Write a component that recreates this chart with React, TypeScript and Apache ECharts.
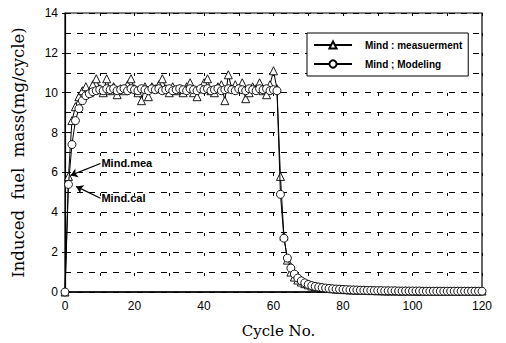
import React, { useEffect, useRef } from "react";
import * as echarts from "echarts";

const measName = "Mind : measuerment";
const modelName = "Mind ; Modeling";

const measurement = [
  0, 5.8, 8.6, 9.3, 9.8, 10.1, 10.3, 10.0, 10.4, 10.7,
  10.2, 10.0, 10.7, 10.1, 10.3, 9.9, 10.2, 10.1, 10.4, 10.7,
  10.2, 10.0, 9.6, 10.3, 9.8, 10.3, 10.2, 10.4, 10.7, 10.2,
  10.0, 10.3, 10.1, 10.2, 10.0, 10.3, 10.5, 10.0, 9.8, 10.2,
  10.5, 10.7, 10.1, 10.0, 10.3, 10.4, 9.6, 10.9, 10.2, 10.4,
  10.2, 10.5, 9.7, 10.0, 10.3, 10.2, 10.5, 10.1, 9.9, 10.4,
  11.1, 10.2, 5.8, 2.8, 1.6, 1.0, 0.75, 0.6, 0.5, 0.42,
  0.36, 0.3, 0.27, 0.24, 0.22, 0.2, 0.18, 0.16, 0.15, 0.14,
  0.12, 0.12, 0.1, 0.11, 0.09, 0.1, 0.08, 0.09, 0.07, 0.08,
  0.06, 0.07, 0.05, 0.06, 0.05, 0.06, 0.05, 0.04, 0.06, 0.05,
  0.05, 0.04, 0.05, 0.04, 0.05, 0.04, 0.05, 0.04, 0.04, 0.05,
  0.04, 0.05, 0.04, 0.04, 0.05, 0.04, 0.04, 0.05, 0.04, 0.04, 0.05,
];

const modeling = [
  0, 5.4, 7.4, 8.6, 9.2, 9.6, 9.85, 9.95, 10.05, 10.1,
  10.15, 10.1, 10.2, 10.15, 10.2, 10.1, 10.15, 10.2, 10.1, 10.2,
  10.15, 10.1, 10.2, 10.15, 10.1, 10.2, 10.15, 10.2, 10.1, 10.15,
  10.2, 10.1, 10.15, 10.2, 10.15, 10.1, 10.2, 10.15, 10.1, 10.2,
  10.15, 10.2, 10.1, 10.15, 10.2, 10.1, 10.15, 10.2, 10.15, 10.1,
  10.2, 10.15, 10.1, 10.2, 10.15, 10.1, 10.2, 10.15, 10.2, 10.1,
  10.15, 10.1, 4.9, 2.7, 1.7, 1.2, 0.9, 0.7, 0.56, 0.46,
  0.38, 0.32, 0.28, 0.25, 0.22, 0.2, 0.18, 0.16, 0.15, 0.14,
  0.13, 0.12, 0.11, 0.1, 0.1, 0.09, 0.09, 0.08, 0.08, 0.07,
  0.07, 0.07, 0.06, 0.06, 0.06, 0.06, 0.05, 0.05, 0.05, 0.05,
  0.05, 0.05, 0.05, 0.04, 0.04, 0.04, 0.04, 0.04, 0.04, 0.04,
  0.04, 0.04, 0.04, 0.04, 0.04, 0.04, 0.04, 0.04, 0.04, 0.04, 0.04,
];

// annotations: label anchor (x,y) and arrow tip (x,y) in data units
const annoMea = { text: "Mind.mea", from: [10.2, 6.45], to: [1.6, 5.85] };
const annoCal = { text: "Mind.cal", from: [10.2, 4.7], to: [3.2, 5.3] };

const xTicks = [0, 120, 20];
const yTicks = [0, 14, 2];

export default function App() {
  const ref = useRef<HTMLDivElement>(null);
  useEffect(() => {
    const chart = echarts.init(ref.current!, null, { renderer: "svg" });
    const pairs = (arr: number[]) => arr.map((v, i) => [i, v]);
    const arrowLine = (a: typeof annoMea) => ({
      silent: true,
      symbol: ["none", "arrow"],
      symbolSize: 7,
      lineStyle: { color: "#000", width: 1.2, type: "solid" },
      itemStyle: { color: "#000" },
      label: { show: false },
      data: [[{ coord: a.from }, { coord: a.to }]],
    });
    const textPoint = (a: typeof annoMea) => ({
      silent: true,
      symbol: "circle",
      symbolSize: 0,
      label: {
        show: true,
        position: "right",
        distance: 1,
        formatter: a.text,
        color: "#000",
        fontFamily: "Liberation Sans, Arial, sans-serif",
        fontWeight: "bold",
        fontSize: 11,
      },
      data: [{ coord: a.from }],
    });
    chart.setOption({
      animation: false,
      backgroundColor: "#fff",
      grid: {
        left: 65,
        right: 24,
        top: 13,
        bottom: 51,
        show: true,
        borderColor: "#000",
        borderWidth: 1.2,
        backgroundColor: "transparent",
      },
      legend: {
        left: 307,
        top: 33,
        orient: "vertical",
        padding: [7, 6, 7, 6],
        itemGap: 9,
        itemWidth: 38,
        itemHeight: 9,
        borderColor: "#000",
        borderWidth: 1,
        backgroundColor: "#fff",
        textStyle: {
          fontFamily: "Liberation Sans, Arial, sans-serif",
          fontWeight: "bold",
          fontSize: 10,
          color: "#000",
          padding: [0, 0, 0, 8],
        },
        data: [measName, modelName],
      },
      xAxis: {
        type: "value",
        min: xTicks[0],
        max: xTicks[1],
        interval: xTicks[2],
        name: "Cycle No.",
        nameLocation: "middle",
        nameGap: 31,
        nameTextStyle: {
          fontFamily: "DejaVu Serif, serif",
          fontSize: 15,
          color: "#000",
          padding: [0, 0, 0, 10],
        },
        axisLine: { show: true, lineStyle: { color: "#000", width: 1.5 } },
        axisTick: { show: false },
        axisLabel: {
          color: "#000",
          fontFamily: "Liberation Sans, Arial, sans-serif",
          fontSize: 12,
          margin: 8,
        },
        splitLine: { show: true, lineStyle: { color: "#000", width: 1, type: [3, 17] } },
        minorTick: { show: false, splitNumber: 2 },
        minorSplitLine: { show: true, lineStyle: { color: "#000", width: 1, type: [3, 17] } },
      },
      yAxis: {
        type: "value",
        min: yTicks[0],
        max: yTicks[1],
        interval: yTicks[2],
        name: "Induced  fuel  mass(mg/cycle)",
        nameLocation: "middle",
        nameGap: 38,
        nameTextStyle: {
          fontFamily: "DejaVu Serif, serif",
          fontSize: 16.5,
          color: "#000",
        },
        axisLine: { show: true, lineStyle: { color: "#000", width: 1.2 } },
        axisTick: { show: true, inside: false, length: 3, lineStyle: { color: "#000" } },
        axisLabel: {
          color: "#000",
          fontFamily: "Liberation Sans, Arial, sans-serif",
          fontSize: 12,
          margin: 7,
        },
        splitLine: { show: true, lineStyle: { color: "#000", width: 1, type: [6, 6] } },
        minorTick: { show: false, splitNumber: 2 },
        minorSplitLine: { show: true, lineStyle: { color: "#000", width: 1, type: [6, 6] } },
      },
      series: [
        {
          name: measName,
          type: "line",
          data: pairs(measurement),
          symbol: "triangle",
          symbolSize: 8,
          showAllSymbol: true,
          lineStyle: { color: "#000", width: 1 },
          itemStyle: { color: "#fff", borderColor: "#000", borderWidth: 0.9 },
          markLine: arrowLine(annoMea),
          markPoint: textPoint(annoMea),
          z: 3,
        },
        {
          name: modelName,
          type: "line",
          data: pairs(modeling),
          symbol: "circle",
          symbolSize: 8,
          showAllSymbol: true,
          lineStyle: { color: "#000", width: 1 },
          itemStyle: { color: "#fff", borderColor: "#000", borderWidth: 0.9 },
          markLine: arrowLine(annoCal),
          markPoint: textPoint(annoCal),
          z: 4,
        },
      ],
    });
    return () => chart.dispose();
  }, []);
  return <div ref={ref} style={{ width: 506, height: 343, position: "absolute", left: 0, top: 0 }} />;
}
